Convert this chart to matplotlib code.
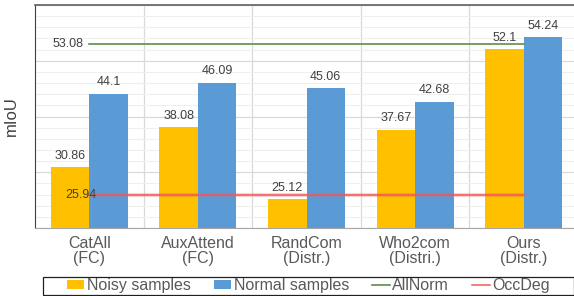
import numpy as np
import matplotlib.pyplot as plt
from matplotlib.ticker import MultipleLocator
from matplotlib.patches import Rectangle

plt.rcParams['font.family'] = ['Liberation Sans', 'DejaVu Sans']

methods = ["CatAll\n(FC)", "AuxAttend\n(FC)", "RandCom\n(Distr.)", "Who2com\n(Distri.)", "Ours\n(Distr.)"]
noisy = [30.86, 38.08, 25.12, 37.67, 52.1]
normal = [44.1, 46.09, 45.06, 42.68, 54.24]
all_norm = 53.08
occ_deg = 25.94

yellow = "#FFC000"
blue = "#5B9BD5"
green = "#5F8F45"
red = "#F0585A"
txt = "#404040"

fig = plt.figure(figsize=(5.74, 2.96), dpi=100)
ax = fig.add_axes([0.061, 0.2297, 0.946, 0.7533])

x = np.arange(len(methods))
w = 0.355
b1 = ax.bar(x - w / 2, noisy, w, color=yellow, label="Noisy samples", zorder=3)
b2 = ax.bar(x + w / 2, normal, w, color=blue, label="Normal samples", zorder=3)
ax.bar_label(b1, labels=[str(v) for v in noisy], padding=4, fontsize=9, color=txt)
ax.bar_label(b2, labels=[str(v) for v in normal], padding=4, fontsize=9, color=txt)

# soft halo under the red line like the original
ax.plot(x, [occ_deg] * len(x), color=red, lw=3, alpha=0.25, zorder=4)
l1, = ax.plot(x, [all_norm] * len(x), color=green, lw=1.2, label="AllNorm", zorder=4)
l2, = ax.plot(x, [occ_deg] * len(x), color=red, lw=1.1, label="OccDeg", zorder=4)
ax.annotate(str(all_norm), (0, all_norm), xytext=(-4, 0), textcoords="offset points",
            ha="right", va="center", fontsize=9, color=txt, zorder=5)
ax.annotate(str(occ_deg), (0, occ_deg), xytext=(-6, 0), textcoords="offset points",
            ha="center", va="center", fontsize=9, color=txt, zorder=5)

ax.set_xlim(-0.5, len(methods) - 0.5)
ax.set_ylim(20, 60)
ax.yaxis.set_major_locator(MultipleLocator(10))
ax.yaxis.set_minor_locator(MultipleLocator(2))
ax.set_yticklabels([])
ax.tick_params(axis="y", which="both", length=0)
ax.grid(axis="y", which="major", color="#D9D9D9", lw=0.9, zorder=0)
ax.grid(axis="y", which="minor", color="#EFEFEF", lw=0.8, zorder=0)
for b in x[:-1] + 0.5:
    ax.axvline(b, color="#D9D9D9", lw=0.9, zorder=0)

ax.set_xticks(x)
ax.set_xticklabels(methods, fontsize=11.5, color="#595959", linespacing=1.0)
ax.tick_params(axis="x", length=0, pad=6)
ax.set_ylabel("mIoU", fontsize=12, color=txt, labelpad=8)

ax.spines["left"].set_color("#404040")
ax.spines["top"].set_color("#606060")
ax.spines["top"].set_linewidth(1.2)
ax.spines["bottom"].set_color("#A6A6A6")
ax.spines["right"].set_visible(False)

leg = fig.legend([b1, b2, l1, l2], ["Noisy samples", "Normal samples", "AllNorm", "OccDeg"],
                 loc="center", bbox_to_anchor=(0.537, 0.034), ncol=4, fontsize=11.5,
                 frameon=False, handlelength=1.1, handleheight=0.45, handletextpad=0.15,
                 columnspacing=1.45, borderpad=0.1, borderaxespad=0)
for t in leg.get_texts():
    t.set_color("#595959")
fig.patches.append(Rectangle((43 / 574, 1 / 296), 531 / 574, 18 / 296, transform=fig.transFigure,
                             fill=False, edgecolor="#202020", lw=0.9))

fig.savefig("out.png", dpi=100)
